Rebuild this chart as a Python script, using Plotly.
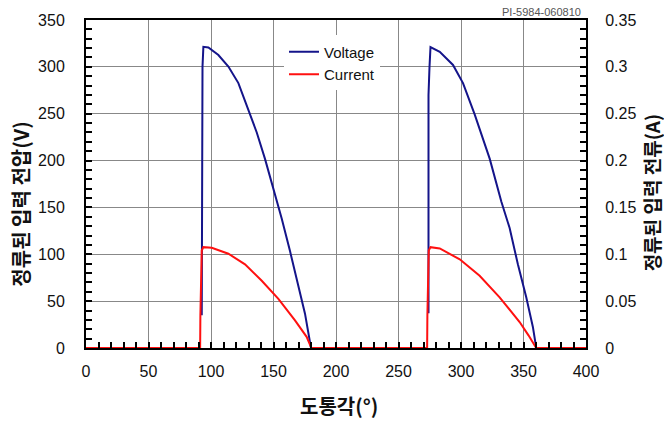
import plotly.graph_objects as go

# Voltage pulses (conduction angle in degrees, volts)
v1_angle = [92.6, 92.6, 93.2, 93.9, 97.9, 105.9, 113.9, 121.9, 129.9, 136.6, 143.2, 149.9, 156.5, 163.2, 169.8, 175.2, 180.0]
v1_volt = [35, 270, 300, 321.4, 320.7, 312.6, 300.3, 282.7, 254.5, 230, 201.8, 170.2, 138.5, 103.4, 68.2, 36.6, 0]
v2_angle = [274.0, 274.0, 274.8, 275.6, 283.0, 293.6, 301.6, 311.0, 323.0, 332.3, 338.9, 345.5, 352.2, 357.5, 360.2]
v2_volt = [37, 270, 300, 321, 316, 302, 282.7, 249, 201.8, 156, 128, 89.3, 54.2, 22.5, 0]

# Current (amps)
i_angle = [0, 91.3, 91.5, 92.6, 93.9, 100.6, 113.9, 127.2, 140.6, 153.9, 167.2, 176.5, 180.3,
           272.9, 273.1, 274.2, 275.6, 283.0, 299.0, 314.9, 330.9, 346.9, 354.0, 360.2, 400]
i_amp = [0, 0, 0.035, 0.104, 0.1076, 0.1069, 0.1006, 0.0893, 0.0717, 0.0524, 0.0295, 0.0119, 0,
         0, 0.035, 0.104, 0.1076, 0.1062, 0.0946, 0.077, 0.0541, 0.0277, 0.0135, 0, 0]

x_ticks = [0, 50, 100, 150, 200, 250, 300, 350, 400]
y_ticks = [0, 50, 100, 150, 200, 250, 300, 350]
y2_ticks = [0, 0.05, 0.1, 0.15, 0.2, 0.25, 0.3, 0.35]

BLUE = "#14148a"
RED = "#ff1010"
FONT = "Liberation Sans, Arial, sans-serif"
KFONT = "Noto Sans CJK KR, sans-serif"

fig = go.Figure()
fig.add_trace(go.Scatter(x=v1_angle + [None] + v2_angle, y=v1_volt + [None] + v2_volt,
                         mode="lines", name="Voltage", line=dict(color=BLUE, width=2),
                         connectgaps=False, yaxis="y"))
fig.add_trace(go.Scatter(x=i_angle, y=i_amp, mode="lines", name="Current",
                         line=dict(color=RED, width=2), yaxis="y2"))

tickfont = dict(family=FONT, size=16, color="#111")
fig.update_layout(
    width=664, height=423,
    margin=dict(l=86, r=78, t=16, b=75),
    plot_bgcolor="white", paper_bgcolor="white",
    showlegend=True,
    legend=dict(x=0.396, y=0.953, xanchor="left", yanchor="top",
                bgcolor="white", borderwidth=0,
                font=dict(family=FONT, size=15, color="#111"),
                tracegroupgap=0, itemwidth=30),
    xaxis=dict(range=[0, 400], tickvals=x_ticks, ticks="inside", ticklen=6, tickwidth=2,
               tickcolor="black", showline=True, linecolor="black", linewidth=2, mirror=True,
               showgrid=True, gridcolor="#888", gridwidth=1, zeroline=False,
               tickfont=tickfont, ticklabelstandoff=8,
               minor=dict(dtick=10, ticks="inside", ticklen=6, tickwidth=2, tickcolor="black", showgrid=False)),
    yaxis=dict(range=[0, 350], tickvals=y_ticks, ticks="inside", ticklen=6, tickwidth=2,
               tickcolor="black", showline=True, linecolor="black", linewidth=2, mirror=False,
               showgrid=True, gridcolor="#888", gridwidth=1, zeroline=False,
               tickfont=tickfont, ticklabelstandoff=16,
               minor=dict(dtick=10, ticks="inside", ticklen=6, tickwidth=2, tickcolor="black", showgrid=False)),
    yaxis2=dict(range=[0, 0.35], tickvals=y2_ticks, overlaying="y", side="right",
                ticks="inside", ticklen=6, tickwidth=2, tickcolor="black",
                showline=True, linecolor="black", linewidth=2, showgrid=False, zeroline=False,
                tickfont=tickfont, ticklabelstandoff=14,
                minor=dict(dtick=0.01, ticks="inside", ticklen=6, tickwidth=2, tickcolor="black")),
)

fig.add_annotation(text="<b>정류된 입력 전압(V)</b>", xref="paper", yref="paper",
                   x=-0.13, y=0.437, xanchor="center", yanchor="middle", textangle=-90, showarrow=False,
                   font=dict(family=KFONT, size=20, color="#111"))
fig.add_annotation(text="<b>정류된 입력 전류(A)</b>", xref="paper", yref="paper",
                   x=1.131, y=0.473, xanchor="center", yanchor="middle", textangle=-90, showarrow=False,
                   font=dict(family=KFONT, size=19, color="#111"))
fig.add_annotation(text="<b>도통각(°)</b>", xref="paper", yref="paper",
                   x=0.506, y=-0.175, xanchor="center", yanchor="middle", showarrow=False,
                   font=dict(family=KFONT, size=20, color="#111"))
fig.add_annotation(text="PI-5984-060810", xref="paper", yref="paper",
                   x=0.994, y=1.0, xanchor="right", yanchor="bottom", showarrow=False,
                   font=dict(family=FONT, size=11, color="#555"))

fig.write_html("out.html")
